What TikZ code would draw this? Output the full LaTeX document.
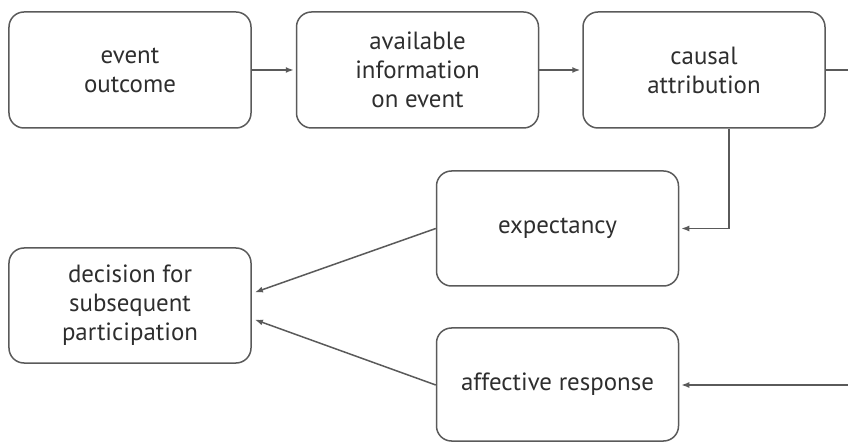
\documentclass[tikz,border=0pt]{standalone}
\usepackage{fontspec}
\setmainfont{PT Sans}
\usetikzlibrary{arrows.meta}
\definecolor{lineC}{HTML}{5A5A5A}
\definecolor{textC}{HTML}{2E2E2E}
\tikzset{
  box/.style={draw=lineC, line width=1.5bp, rounded corners=15bp, minimum width=242bp, minimum height=116bp,
    align=center, text=textC, font=\fontsize{25}{29}\selectfont, inner sep=0pt},
  conn/.style={draw=lineC, line width=1.5bp},
  arr/.style={conn, -{Latex[length=8bp,width=6bp]}, shorten >=2bp}
}
\begin{document}
\begin{tikzpicture}[x=1bp,y=-1bp]
\useasboundingbox (0,0) rectangle (848,442);
\node[box] (eo) at (130,70) {event\\outcome};
\node[box] (ai) at (417.5,70) {available\\information\\on event};
\node[box] (ca) at (704,70) {causal\\attribution};
\node[box, minimum height=115bp] (ex) at (557.5,228.5) {expectancy};
\node[box, minimum height=115bp] (de) at (130,305.5) {decision for\\subsequent\\participation};
\node[box, minimum height=113bp] (af) at (557.5,384.5) {affective response};
\coordinate (r1) at (849,70);
\coordinate (r2) at (849,385);
\coordinate (dn) at (729,0);
\coordinate (d1) at (253,293);
\coordinate (d2) at (253,319);
\draw[arr] (eo.east) -- (ai.west);
\draw[arr] (ai.east) -- (ca.west);
\draw[conn] (ca.east) -- (r1);
\draw[arr] (ca.south -| dn) |- (ex.east);
\draw[arr] (r2) -- (af.east |- r2);
\draw[arr] (ex.west) -- (d1);
\draw[arr] (af.west |- r2) -- (d2);
\end{tikzpicture}
\end{document}
